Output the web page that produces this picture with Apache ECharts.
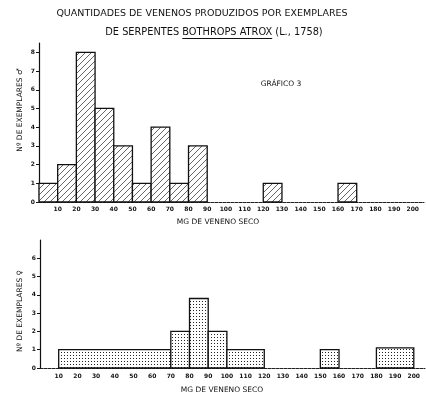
<!DOCTYPE html>
<html>
<head>
<meta charset="utf-8">
<script src="https://cdn.jsdelivr.net/npm/echarts@6/dist/echarts.min.js"></script>
<style>html,body{margin:0;padding:0;background:#fff;}#c{width:426px;height:405px;}</style>
</head>
<body>
<div id="c"></div>
<script>
// ---- data (mg of dry venom bins, counts) ----
const maleBinStart = [0, 10, 20, 30, 40, 50, 60, 70, 80, 120, 160];
const maleBinEnd   = [10, 20, 30, 40, 50, 60, 70, 80, 90, 130, 170];
const maleCounts   = [1, 2, 8, 5, 3, 1, 4, 1, 3, 1, 1];

const femaleBinStart = [10, 70, 80, 90, 100, 150, 180];
const femaleBinEnd   = [70, 80, 90, 100, 120, 160, 200];
const femaleCounts   = [1, 2, 3.8, 2, 1, 1, 1.1];

const xTickLabels = [10,20,30,40,50,60,70,80,90,100,110,120,130,140,150,160,170,180,190,200];
const maleYTicks = [0,1,2,3,4,5,6,7,8];
const femaleYTicks = [0,1,2,3,4,5,6];

// ---- patterns ----
function hatchPattern(){
  const c = document.createElement('canvas'); c.width = 6; c.height = 6;
  const g = c.getContext('2d');
  g.fillStyle = '#fff'; g.fillRect(0,0,6,6);
  g.strokeStyle = '#333'; g.lineWidth = 0.75;
  g.beginPath();
  g.moveTo(-1,7); g.lineTo(7,-1);
  g.moveTo(-1,1); g.lineTo(1,-1);
  g.moveTo(5,7); g.lineTo(7,5);
  g.stroke();
  return {image: c, repeat: 'repeat'};
}
function dotPattern(){
  const c = document.createElement('canvas'); c.width = 3; c.height = 3;
  const g = c.getContext('2d');
  g.fillStyle = '#fff'; g.fillRect(0,0,3,3);
  g.fillStyle = '#222'; g.fillRect(1,1,1,1);
  return {image: c, repeat: 'repeat'};
}
const hatch = hatchPattern();
const dots = dotPattern();

function makeData(s, e, v){ return s.map((x,i)=>[x, e[i], v[i]]); }

function renderer(fill){
  return function(params, api){
    const x0 = api.value(0), x1 = api.value(1), h = api.value(2);
    const p0 = api.coord([x0, 0]);
    const p1 = api.coord([x1, h]);
    return {
      type: 'rect',
      shape: {x: p0[0], y: p1[1], width: p1[0]-p0[0], height: p0[1]-p1[1]},
      style: {fill: fill, stroke: '#111', lineWidth: 1.3}
    };
  };
}

const FONT = 'DejaVu Sans';
const tickLabel = {fontSize: 6, color: '#111', fontFamily: FONT, fontWeight: 'bold'};

function xAxis(gridIndex, margin){
  return {
    type: 'value', gridIndex, min: 0, max: 206,
    axisLine: {show: true, lineStyle: {color: '#222', width: 1, type: [3,1]}},
    axisTick: {show: false},
    splitLine: {show: false},
    axisLabel: Object.assign({customValues: xTickLabels, margin: margin}, tickLabel)
  };
}
function yAxis(gridIndex, max, ticks){
  return {
    type: 'value', gridIndex, min: 0, max: max,
    axisLine: {show: true, lineStyle: {color: '#111', width: 1.2}},
    axisTick: {show: true, length: 3, customValues: ticks, lineStyle: {color: '#111'}},
    splitLine: {show: false},
    axisLabel: Object.assign({customValues: ticks, margin: 4}, tickLabel)
  };
}

// title line 2 and underline position (measured)
const t2 = 'DE SERPENTES BOTHROPS ATROX (L., 1758)';
const t2font = '9.8px "DejaVu Sans"';
const mctx = document.createElement('canvas').getContext('2d');
mctx.font = t2font;
const t2w = mctx.measureText(t2).width;
const t2x0 = 214 - t2w/2;
const ulStart = t2x0 + mctx.measureText('DE SERPENTES ').width;
const ulEnd = ulStart + mctx.measureText('BOTHROPS ATROX').width;

const chart = echarts.init(document.getElementById('c'), null, {renderer: 'canvas'});
chart.setOption({
  backgroundColor: '#fff',
  animation: false,
  grid: [
    {left: 39, top: 43, width: 385, height: 159, outerBoundsMode: 'none', containLabel: false},
    {left: 40, top: 240, width: 385, height: 128, outerBoundsMode: 'none', containLabel: false}
  ],
  xAxis: [xAxis(0, 4), xAxis(1, 5)],
  yAxis: [yAxis(0, 8.5, maleYTicks), yAxis(1, 7, femaleYTicks)],
  series: [
    {type: 'custom', xAxisIndex: 0, yAxisIndex: 0, renderItem: renderer(hatch),
     data: makeData(maleBinStart, maleBinEnd, maleCounts), encode: {x: [0,1], y: 2}},
    {type: 'custom', xAxisIndex: 1, yAxisIndex: 1, renderItem: renderer(dots),
     data: makeData(femaleBinStart, femaleBinEnd, femaleCounts), encode: {x: [0,1], y: 2}}
  ],
  graphic: [
    {type: 'text', x: 202, y: 14, style: {text: 'QUANTIDADES DE VENENOS PRODUZIDOS POR EXEMPLARES', font: '9.5px "DejaVu Sans"', fill: '#111', align: 'center', verticalAlign: 'middle'}},
    {type: 'text', x: 214, y: 32, style: {text: t2, font: t2font, fill: '#111', align: 'center', verticalAlign: 'middle'}},
    {type: 'line', shape: {x1: ulStart, y1: 38.5, x2: ulEnd, y2: 38.5}, style: {stroke: '#111', lineWidth: 1}},
    {type: 'text', x: 281, y: 84, style: {text: 'GRÁFICO 3', font: '7.5px "DejaVu Sans"', fill: '#111', align: 'center', verticalAlign: 'middle'}},
    {type: 'text', x: 218, y: 222, style: {text: 'MG DE VENENO SECO', font: '7.5px "DejaVu Sans"', fill: '#111', align: 'center', verticalAlign: 'middle'}},
    {type: 'text', x: 222, y: 390, style: {text: 'MG DE VENENO SECO', font: '7.5px "DejaVu Sans"', fill: '#111', align: 'center', verticalAlign: 'middle'}},
    {type: 'text', x: 20, y: 110, rotation: Math.PI/2, style: {text: 'Nº DE EXEMPLARES ♂', font: '7.5px "DejaVu Sans"', fill: '#111', align: 'center', verticalAlign: 'middle'}},
    {type: 'text', x: 20, y: 311, rotation: Math.PI/2, style: {text: 'Nº DE EXEMPLARES ♀', font: '7.5px "DejaVu Sans"', fill: '#111', align: 'center', verticalAlign: 'middle'}}
  ]
});
</script>
</body>
</html>
